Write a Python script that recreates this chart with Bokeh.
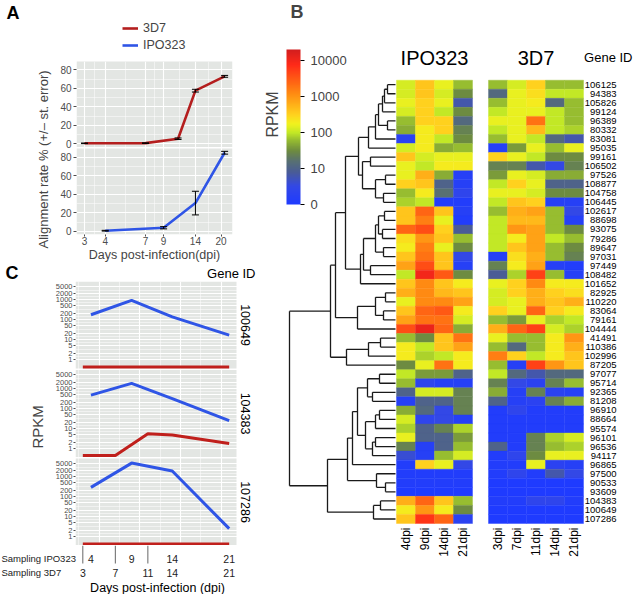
import math
from bokeh.plotting import figure
from bokeh.layouts import row, column
from bokeh.models import (Range1d, FixedTicker, Label, Legend, LegendItem, ColumnDataSource, Title,
                          ColorBar, LinearColorMapper, CustomJSTickFormatter)
from bokeh.transform import linear_cmap
from bokeh.core.properties import value
from bokeh.embed import file_html
from bokeh.resources import INLINE

FONT = "Liberation Sans"
RED = "#B41E1E"
BLUE = "#2F55E6"
BG = "#E3E6E3"
TICKC = "#4d4d4d"

# ---------------- DATA ----------------
# Panel A: alignment rate (%) and standard error
a_days_3d7 = [3, 7, 11, 14, 21]
a_rate_3d7 = [0.5, 0.7, 5.5, 57.5, 73.0]
a_err_3d7 = [0.3, 0.3, 0.8, 1.5, 1.0]
a_days_ipo = [4, 9, 14, 21]
a_rate_ipo = [0.6, 3.8, 30.5, 85.0]
a_err_ipo = [0.4, 1.2, 12.8, 1.5]
a_xticks = [3, 4, 7, 9, 14, 20]
a_yticks = [0, 20, 40, 60, 80]

# Panel C: RPKM per gene
c_days_ipo = [4, 9, 14, 21]
c_days_3d7 = [3, 7, 11, 14, 21]
c_genes = ["100649", "104383", "107286"]
c_ipo_100649 = [180, 950, 140, 17]
c_3d7_100649 = [0, 0, 0, 0, 0]
c_ipo_104383 = [460, 1800, 310, 24]
c_3d7_104383 = [0, 0, 5.3, 4.5, 1.7]
c_ipo_107286 = [300, 5000, 2000, 2.5]
c_3d7_107286 = [0, 0, 0, 0, 0]
c_yticks = [1, 2, 5, 10, 20, 50, 100, 200, 500, 1000, 2000, 5000]
c_sep_days = [3, 7, 11]

# Panel B: heatmap (log10 RPKM), gene order top -> bottom
gene_ids = ["106125", "94383", "105826", "99124", "96389", "80332", "83081", "95035", "99161", "106502",
            "97526", "108877", "104758", "106445", "102617", "88698", "93075", "79286", "89647", "97031",
            "97449", "108482", "101652", "82925", "110220", "83064", "79161", "104444", "41491", "110386",
            "102996", "87205", "97077", "95714", "92365", "81208", "96910", "88664", "95574", "96101",
            "96536", "94117", "96865", "97500", "90533", "93609", "104383", "100649", "107286"]
ipo_cols = ["4dpi", "9dpi", "14dpi", "21dpi"]
d7_cols = ["3dpi", "7dpi", "11dpi", "14dpi", "21dpi"]
ipo_4dpi = [2.1, 2.1, 2.2, 2.1, 1.8, 1.7, 0.3, 2.1, 2.6, 2.2, 2.2, 2.5, 1.8, 1.9, 2.6, 2.6, 3.4, 2.4, 2.3, 2.6,
            2.9, 2.0, 2.6, 2.8, 2.2, 2.6, 2.9, 3.6, 1.8, 2.3, 2.3, 1.5, 2.0, 1.8, 1.0, 0.2, 1.7, 2.1, 1.9, 2.2,
            1.4, 0.6, 0.1, 0.1, 0.1, 0.0, 2.8, 2.3, 2.6]
ipo_9dpi = [2.6, 2.6, 2.5, 2.5, 2.5, 2.3, 2.3, 2.3, 2.1, 2.0, 2.8, 2.6, 2.3, 2.0, 3.4, 3.2, 3.6, 3.0, 3.2, 3.3,
            3.6, 4.0, 3.1, 3.1, 3.1, 3.4, 3.3, 4.1, 1.5, 2.0, 1.9, 2.2, 1.6, 0.4, 2.1, 1.0, 1.1, 0.4, 1.0, 1.0,
            0.2, 0.2, 2.5, 0.1, 0.1, 0.0, 3.4, 3.0, 3.8]
ipo_14dpi = [2.2, 2.1, 2.2, 2.0, 2.5, 2.5, 2.0, 1.7, 2.2, 2.3, 1.7, 1.0, 1.2, 0.1, 2.6, 2.2, 2.5, 2.6, 2.2, 2.6,
             2.6, 3.5, 2.6, 2.7, 3.1, 3.5, 3.3, 3.4, 2.6, 2.6, 2.0, 3.3, 1.6, 0.2, 2.1, 1.0, 0.5, 0.5, 1.4, 1.0,
             1.0, 1.8, 2.2, 0.1, 0.1, 0.0, 2.6, 2.3, 3.4]
ipo_21dpi = [1.8, 1.5, 0.8, 1.5, 1.1, 1.4, 1.5, 1.8, 2.2, 2.3, 0.2, 0.2, 0.4, 0.1, 0.2, 0.1, 0.9, 1.8, 1.5, 0.5,
             0.2, 1.5, 2.3, 2.6, 2.9, 2.3, 2.1, 1.7, 3.3, 2.9, 2.3, 2.3, 1.0, 0.2, 1.4, 1.4, 1.4, 0.2, 1.9, 1.6,
             1.8, 2.1, 0.5, 0.1, 0.1, 0.0, 1.8, 1.5, 0.3]
d7_3dpi = [1.8, 1.1, 1.8, 2.0, 2.2, 2.0, 1.8, 0.2, 2.5, 1.4, 1.6, 2.0, 2.2, 2.0, 1.8, 2.0, 2.0, 2.0, 2.0, 0.2,
           1.4, 0.9, 2.2, 2.1, 2.1, 2.5, 1.8, 2.8, 2.2, 1.8, 3.2, 1.8, 2.0, 1.4, 1.7, 1.0, 0.1, 0.1, 0.1, 0.1,
           1.0, 0.1, 0.1, 0.1, 0.0, 0.0, 0.1, 0.0, 0.0]
d7_7dpi = [2.1, 2.2, 2.2, 2.2, 2.2, 2.2, 2.2, 1.6, 2.2, 1.4, 2.2, 2.5, 2.2, 2.6, 2.8, 2.7, 3.0, 2.3, 2.6, 2.4,
           2.3, 1.9, 2.5, 2.5, 2.2, 2.2, 1.6, 3.4, 1.8, 1.1, 2.5, 0.2, 1.1, 0.5, 0.2, 0.2, 0.4, 0.1, 0.1, 0.1,
           0.1, 0.4, 0.1, 0.4, 0.0, 0.0, 0.1, 0.0, 0.0]
d7_11dpi = [2.5, 2.4, 2.3, 2.2, 3.3, 2.7, 2.0, 2.2, 2.0, 0.8, 2.1, 2.2, 2.1, 2.5, 2.9, 2.7, 2.9, 2.9, 2.9, 2.8,
            2.9, 3.7, 3.1, 2.8, 2.8, 3.4, 2.2, 3.7, 1.8, 1.8, 2.0, 3.7, 0.8, 0.3, 1.4, 0.3, 0.1, 0.1, 0.1, 1.4,
            1.4, 1.5, 2.2, 0.1, 0.0, 0.0, 0.4, 0.0, 0.0]
d7_14dpi = [1.8, 2.0, 1.1, 2.0, 2.0, 2.0, 1.1, 1.8, 1.5, 0.5, 1.7, 1.0, 1.5, 0.2, 1.8, 1.8, 1.8, 2.0, 1.8, 1.8,
            0.2, 1.8, 2.3, 2.5, 2.6, 2.5, 1.9, 2.1, 2.3, 2.3, 2.3, 3.0, 1.1, 1.4, 0.3, 1.4, 0.1, 0.1, 0.1, 1.9,
            1.8, 2.2, 0.3, 0.8, 0.0, 0.0, 0.4, 0.0, 0.0]
d7_21dpi = [1.8, 2.0, 1.8, 1.8, 1.8, 1.9, 0.8, 2.2, 1.5, 1.4, 1.7, 1.0, 1.5, 0.2, 0.5, 0.2, 1.5, 1.8, 1.5, 1.4,
            0.1, 0.2, 2.3, 2.4, 2.8, 2.3, 2.0, 1.9, 3.0, 2.8, 2.6, 2.6, 1.1, 1.8, 0.2, 1.7, 0.1, 0.1, 0.1, 2.1,
            1.9, 2.2, 0.2, 0.5, 0.0, 0.0, 0.1, 0.0, 0.0]
cbar_ticks = [0, 1, 2, 3, 4]
cbar_labels = ["0", "10", "100", "1000", "10000"]

# hierarchical clustering: (merge height, left, right); leaves are row indices
dendro_tree = (106,
  (65,
    (60,
      (50,
        (37,
          (27, (20, (17, (13, (11, (8, 0, 1), 2), 3), (8, 4, 5)), 6), 7),
          (33, (25, 8, 9), (20, (10, 10, 11), (12, 12, 13)))),
        (35, (32, (20, (17, (11, 14, 15), (13, 16, 17)), (12, 18, 19)), (25, 20, 21)), 22)),
      (38, (20, (10, 23, 24), (12, 25, 26)), 27)),
    (49, (27, (15, 28, 29), 30), 31)),
  (68,
    (48,
      (43,
        (38, (28, (16, 32, 33), (23, 34, 35)),
             (30, (20, (16, 36, 37), 38), (23, (20, 39, 40), 41))),
        42),
      (19, 43, (10, 44, 45))),
    (22, (15, 46, 47), 48)))


def nearest_formatter(pos, labs):
    return CustomJSTickFormatter(args=dict(pos=list(pos), labs=list(labs)), code="""
        let best = ''; let d = Infinity;
        for (let i = 0; i < pos.length; i++) {
            const e = Math.abs(pos[i] - tick);
            if (e < d) { d = e; best = labs[i]; }
        }
        return best;
    """)


def style_axis(ax, fs):
    ax.axis_line_color = None
    ax.major_tick_line_color = TICKC
    ax.major_tick_out = 3
    ax.major_tick_in = 0
    ax.minor_tick_line_color = None
    ax.major_label_text_font = FONT
    ax.major_label_text_font_size = fs
    ax.major_label_text_color = TICKC
    ax.major_label_standoff = 2


def white_grids(p):
    for g in (p.xgrid[0], p.ygrid[0]):
        g.grid_line_color = "white"
        g.grid_line_width = 1.1
        g.minor_grid_line_color = "white"
        g.minor_grid_line_width = 0.5


def header(width, top, bottom):
    """Text-only strip: page-pixel ranges, frame = whole canvas."""
    h = figure(width=width, height=bottom - top, x_range=Range1d(0, width), y_range=Range1d(bottom, top),
               x_axis_location=None, y_axis_location=None, output_backend="svg", toolbar_location=None,
               min_border=0, min_border_left=0, min_border_right=0, min_border_top=0,
               min_border_bottom=0, frame_align=False)
    h.outline_line_color = None
    h.xgrid.visible = False
    h.ygrid.visible = False
    return h


def txt(p, x, y, s, size, align="left", bold=False, angle=0.0, color="black", **kw):
    p.text(x=[x], y=[y], text=[s], text_align=align, text_baseline="middle", angle=angle,
           text_font=value(FONT), text_font_size=size, text_color=color,
           text_font_style="bold" if bold else "normal", **kw)


LEFT_W = 263
PAGE_H = 594
NAN = float("nan")

# ---------------- PANEL A ----------------
hA = header(LEFT_W, 0, 58)
txt(hA, 6, 12, "A", "18px", bold=True)
# legend proxies (no visible points)
r_l3 = hA.line(x=[0, 1], y=[NAN, NAN], line_color=RED, line_width=2.6)
r_li = hA.line(x=[0, 1], y=[NAN, NAN], line_color=BLUE, line_width=2.6)
leg = Legend(items=[LegendItem(label="3D7", renderers=[r_l3]), LegendItem(label="IPO323", renderers=[r_li])],
             location=(122, 58 - 53), glyph_width=16, glyph_height=16, label_height=16,
             spacing=1, padding=0, margin=0, label_standoff=5, border_line_color=None,
             background_fill_alpha=0, label_text_font=FONT, label_text_font_size="12.5px")
hA.add_layout(leg)

A_TOP, A_BOT = 58, 264
A_FL, A_FR, A_FT, A_FB = 76, 232, 61, 237
A_X = (2.684, 23.43)
A_PPU = 0.94
A_PANEL = (-3.5, 89.5)
A_OFF = (150 - A_FT) / A_PPU
A_YR = (A_PANEL[0], A_PANEL[0] + (A_FB - A_FT) / A_PPU)

pa = figure(width=LEFT_W, height=A_BOT - A_TOP, x_axis_type="log", x_range=Range1d(*A_X),
            y_range=Range1d(*A_YR), output_backend="svg", toolbar_location=None, frame_align=False,
            min_border_left=A_FL, min_border_right=LEFT_W - A_FR, min_border_top=A_FT - A_TOP,
            min_border_bottom=A_BOT - A_FB)
pa.extra_y_ranges = {"top": Range1d(A_YR[0] - A_OFF, A_YR[1] - A_OFF)}
pa.outline_line_color = None
for rn in ["default", "top"]:
    pa.quad(left=A_X[0], right=A_X[1], bottom=A_PANEL[0], top=A_PANEL[1], fill_color=BG,
            line_color=None, level="image", y_range_name=rn)

xminor = [math.sqrt(a * b) for a, b in zip(a_xticks[:-1], a_xticks[1:])]
pa.xgrid.ticker = FixedTicker(ticks=a_xticks, minor_ticks=xminor)
a_ypos = list(a_yticks) + [t + A_OFF for t in a_yticks]
a_ylab = [str(t) for t in a_yticks] * 2
a_yminor = [10, 30, 50, 70] + [t + A_OFF for t in [10, 30, 50, 70]]
pa.ygrid.ticker = FixedTicker(ticks=a_ypos, minor_ticks=a_yminor)
white_grids(pa)
pa.xaxis.ticker = FixedTicker(ticks=a_xticks)
pa.xaxis.formatter = CustomJSTickFormatter(code="return String(Math.round(tick));")
pa.yaxis.ticker = FixedTicker(ticks=a_ypos)
pa.yaxis.formatter = nearest_formatter(a_ypos, a_ylab)
style_axis(pa.xaxis[0], "10px")
style_axis(pa.yaxis[0], "10px")
pa.xaxis.major_tick_out = 2
pa.xaxis.major_label_standoff = 0
pa.xaxis.axis_label = "Days post-infection(dpi)"
pa.xaxis.axis_label_standoff = 0
pa.xaxis.axis_label_text_font = FONT
pa.xaxis.axis_label_text_font_size = "12.5px"
pa.xaxis.axis_label_text_font_style = "normal"
pa.add_layout(Title(text="Alignment rate % (+/\u2013 st. error)", align="left", offset=A_FB - 251,
                    standoff=14, text_font=FONT, text_font_size="13px", text_font_style="normal"), "left")

pa.line(a_days_3d7, a_rate_3d7, y_range_name="top", line_color=RED, line_width=2.6)
pa.line(a_days_ipo, a_rate_ipo, line_color=BLUE, line_width=2.6)
for days, rate, err, rn in [(a_days_3d7, a_rate_3d7, a_err_3d7, "top"),
                            (a_days_ipo, a_rate_ipo, a_err_ipo, "default")]:
    lo = [r - e for r, e in zip(rate, err)]
    hi = [r + e for r, e in zip(rate, err)]
    pa.segment(x0=days, y0=lo, x1=days, y1=hi, line_color="black", line_width=1, y_range_name=rn)
    pa.scatter(list(days) * 2, lo + hi, marker="dash", size=7, line_color="black", line_width=1,
               y_range_name=rn)

# ---------------- PANEL C ----------------
hC = header(LEFT_W, 264, 281)
txt(hC, 5, 272, "C", "18px", bold=True)
txt(hC, 255, 273, "Gene ID", "13px", align="right")

C_TOP, C_BOT = 281, 545
C_FL, C_FR = 75, 255
C_PANEL_TOPS = [281.0, 369.5, 458.0]
C_PANEL_H = 87.0
C_LOG = (-0.45, 3.93)
C_PPU = C_PANEL_H / (C_LOG[1] - C_LOG[0])
C_YR = (C_LOG[0] - (C_BOT - (C_PANEL_TOPS[2] + C_PANEL_H)) / C_PPU,
        C_LOG[1] + (C_PANEL_TOPS[2] - C_TOP) / C_PPU)
C_X = (2.1, 21.9)
C_XPPU = (236 - C_FL) / (C_X[1] - C_X[0])
C_XR = (C_X[0], C_X[0] + (C_FR - C_FL) / C_XPPU)

pc = figure(width=LEFT_W, height=C_BOT - C_TOP, x_range=Range1d(*C_XR), y_range=Range1d(*C_YR),
            x_axis_location=None, output_backend="svg", toolbar_location=None, frame_align=False,
            min_border_left=C_FL, min_border_right=LEFT_W - C_FR, min_border_top=0, min_border_bottom=0)
pc.outline_line_color = None
offs = [(C_PANEL_TOPS[2] - t) / C_PPU for t in C_PANEL_TOPS]
pc.extra_y_ranges = {f"g{k}": Range1d(C_YR[0] - offs[k], C_YR[1] - offs[k]) for k in range(3)}

c_logt = [math.log10(t) for t in c_yticks]
c_pos, c_lab, c_minor = [], [], []
for k in range(3):
    c_pos += [v + offs[k] for v in c_logt]
    c_lab += [str(t) for t in c_yticks]
    c_minor += [(a + b) / 2 + offs[k] for a, b in zip(c_logt[:-1], c_logt[1:])]
pc.ygrid.ticker = FixedTicker(ticks=c_pos, minor_ticks=c_minor)
pc.xgrid.ticker = FixedTicker(ticks=[5, 10, 15, 20], minor_ticks=[2.5, 7.5, 12.5, 17.5])
white_grids(pc)
pc.yaxis.ticker = FixedTicker(ticks=c_pos)
pc.yaxis.formatter = nearest_formatter(c_pos, c_lab)
style_axis(pc.yaxis[0], "7.5px")
pc.yaxis.major_label_standoff = 1
pc.yaxis.major_tick_out = 2
pc.add_layout(Title(text="RPKM", align="left", offset=545 - 448, standoff=14, text_font=FONT,
                    text_font_size="15px", text_font_style="normal"), "left")

c_ipo = [c_ipo_100649, c_ipo_104383, c_ipo_107286]
c_3d7 = [c_3d7_100649, c_3d7_104383, c_3d7_107286]
for k in range(3):
    rn = f"g{k}"
    pc.quad(left=C_X[0], right=C_X[1], bottom=C_LOG[0], top=C_LOG[1], fill_color=BG,
            line_color=None, level="image", y_range_name=rn)
    yb = [math.log10(v) for v in c_ipo[k]]
    yr = [math.log10(v) if v > 0 else C_LOG[0] + 0.07 for v in c_3d7[k]]
    pc.line(c_days_3d7, yr, line_color="#C0201C", line_width=3, y_range_name=rn)
    pc.line(c_days_ipo, yb, line_color=BLUE, line_width=3, y_range_name=rn)
    strip_x = C_X[0] + (245 - C_FL) / C_XPPU
    pc.text(x=[strip_x], y=[(C_LOG[0] + C_LOG[1]) / 2], text=[c_genes[k]], angle=-math.pi / 2,
            text_align="center", text_baseline="middle", text_font=value(FONT),
            text_font_size="12.5px", y_range_name=rn)

# sampling rows under panel C (same day -> pixel mapping as panel C)
hS = figure(width=LEFT_W, height=PAGE_H - C_BOT,
            x_range=Range1d(C_X[0] - C_FL / C_XPPU, C_X[0] + (LEFT_W - C_FL) / C_XPPU),
            y_range=Range1d(PAGE_H, C_BOT), x_axis_location=None, y_axis_location=None,
            output_backend="svg", toolbar_location=None, frame_align=False,
            min_border=0, min_border_left=0, min_border_right=0, min_border_top=0, min_border_bottom=0)
hS.outline_line_color = None
hS.xgrid.visible = False
hS.ygrid.visible = False


def px_day(px):
    return C_X[0] + (px - C_FL) / C_XPPU


hS.segment(x0=c_sep_days, y0=[545] * 3, x1=c_sep_days, y1=[563] * 3, line_color="#666666", line_width=1)
hS.text(x=c_days_ipo, y=[558] * 4, text=[str(d) for d in c_days_ipo], text_align="center",
        text_baseline="middle", text_font=value(FONT), text_font_size="10.5px", text_color="#222222")
hS.text(x=c_days_3d7, y=[572] * 5, text=[str(d) for d in c_days_3d7], text_align="center",
        text_baseline="middle", text_font=value(FONT), text_font_size="10.5px", text_color="#222222")
txt(hS, px_day(1), 558, "Sampling IPO323", "9.5px", color="#222222")
txt(hS, px_day(1), 572, "Sampling 3D7", "9.5px", color="#222222")
txt(hS, px_day(157), 587, "Days post-infection (dpi)", "12.5px", align="center")

# ---------------- PANEL B ----------------
HM_LEFT, HM_TOP, CELL_W = 396.0, 79.7, 19.0
CELL_H = 443.3 / len(gene_ids)
B_L, B_W, B_H = LEFT_W, 633 - LEFT_W, PAGE_H
B_XR = ((B_L - HM_LEFT) / CELL_W, (B_L + B_W - HM_LEFT) / CELL_W)
B_YR = ((B_H - HM_TOP) / CELL_H, (0 - HM_TOP) / CELL_H)
GAP = 16.0 / CELL_W
LEAF_X = 395.0

pb = figure(width=B_W, height=B_H, x_range=Range1d(*B_XR), y_range=Range1d(*B_YR),
            x_axis_location=None, y_axis_location=None, output_backend="svg", toolbar_location=None,
            frame_align=False, min_border=0, min_border_left=0, min_border_right=0, min_border_top=0,
            min_border_bottom=0)
pb.outline_line_color = None
pb.xgrid.visible = False
pb.ygrid.visible = False
pb.extra_x_ranges = {"dendro": Range1d(LEAF_X - B_L, LEAF_X - (B_L + B_W))}


def interp_palette(anchors, n=256):
    lo, hi = anchors[0][0], anchors[-1][0]
    out = []
    for i in range(n):
        t = lo + (hi - lo) * i / (n - 1)
        for (t0, c0), (t1, c1) in zip(anchors[:-1], anchors[1:]):
            if t0 <= t <= t1:
                f = (t - t0) / (t1 - t0) if t1 > t0 else 0
                a = [int(c0[j:j + 2], 16) for j in (1, 3, 5)]
                b = [int(c1[j:j + 2], 16) for j in (1, 3, 5)]
                out.append("#%02x%02x%02x" % tuple(int(round(a[j] + (b[j] - a[j]) * f)) for j in range(3)))
                break
    return out


VMAX = 4.32
palette = interp_palette([(0.0, "#1F3BFF"), (0.5, "#3348E6"), (0.9, "#4A5C96"), (1.2, "#587072"),
                          (1.5, "#6E8C3F"), (1.8, "#98BE30"), (2.0, "#C2E826"), (2.25, "#F2F21E"),
                          (2.5, "#FFD21E"), (2.8, "#FFAE18"), (3.1, "#FF8A12"), (3.5, "#FF5A14"),
                          (3.9, "#FF2A18"), (VMAX, "#D21E1E")])

hx, hy, hv = [], [], []
for j, colv in enumerate([ipo_4dpi, ipo_9dpi, ipo_14dpi, ipo_21dpi]):
    for i, v in enumerate(colv):
        hx.append(j + 0.5); hy.append(i + 0.5); hv.append(v)
d7_x0 = len(ipo_cols) + GAP
for k, colv in enumerate([d7_3dpi, d7_7dpi, d7_11dpi, d7_14dpi, d7_21dpi]):
    for i, v in enumerate(colv):
        hx.append(d7_x0 + k + 0.5); hy.append(i + 0.5); hv.append(v)
cmap = linear_cmap("v", palette, 0, VMAX)
pb.rect(x="x", y="y", width=1, height=1, source=ColumnDataSource(dict(x=hx, y=hy, v=hv)),
        fill_color=cmap, line_color=cmap, line_width=0.4)

segs = []


def walk(node):
    if isinstance(node, int):
        return node + 0.5, 0.0
    h, l, r = node
    yl, hl = walk(l)
    yr, hr = walk(r)
    segs.append((hl, yl, h, yl))
    segs.append((hr, yr, h, yr))
    segs.append((h, yl, h, yr))
    return (yl + yr) / 2, h


walk(dendro_tree)
pb.segment(x0=[s[0] for s in segs], y0=[s[1] for s in segs], x1=[s[2] for s in segs],
           y1=[s[3] for s in segs], x_range_name="dendro", line_color="#1a1a1a", line_width=1.3)

title_y = (57 - HM_TOP) / CELL_H
pb.text(x=[len(ipo_cols) / 2, d7_x0 + len(d7_cols) / 2], y=[title_y] * 2, text=["IPO323", "3D7"],
        text_align="center", text_baseline="middle", text_font=value(FONT), text_font_size="20px")
pb.text(x=[(632 - HM_LEFT) / CELL_W], y=[title_y], text=["Gene ID"], text_align="right",
        text_baseline="middle", text_font=value(FONT), text_font_size="13px")
pb.text(x=[(616 - HM_LEFT) / CELL_W] * len(gene_ids), y=[i + 0.5 for i in range(len(gene_ids))],
        text=gene_ids, text_align="right", text_baseline="middle", text_font=value(FONT),
        text_font_size="9.5px")
col_x = [j + 0.5 for j in range(len(ipo_cols))] + [d7_x0 + k + 0.5 for k in range(len(d7_cols))]
col_y = (527 - HM_TOP) / CELL_H
pb.text(x=col_x, y=[col_y] * len(col_x), text=ipo_cols + d7_cols, angle=math.pi / 2,
        text_align="right", text_baseline="middle", text_font=value(FONT), text_font_size="12px")

mapper = LinearColorMapper(palette=palette, low=0, high=VMAX)
cb = ColorBar(color_mapper=mapper, location=(286 - B_L, B_H - 204), width=14, height=155,
              padding=0, margin=0, ticker=FixedTicker(ticks=cbar_ticks),
              formatter=nearest_formatter(cbar_ticks, cbar_labels),
              major_label_text_font=FONT, major_label_text_font_size="13px", label_standoff=6,
              major_tick_line_color="black", major_tick_in=0, major_tick_out=4,
              minor_tick_line_color=None, bar_line_color=None, border_line_color=None,
              background_fill_alpha=0)
pb.add_layout(cb)
pb.add_layout(Label(x=272 - B_L, y=B_H - 114, x_units="screen", y_units="screen", text="RPKM",
                    angle=math.pi / 2, text_align="center", text_baseline="middle", text_font=FONT,
                    text_font_size="16px"))
pb.add_layout(Label(x=290 - B_L, y=B_H - 11, x_units="screen", y_units="screen", text="B",
                    text_align="left", text_baseline="middle", text_font=FONT, text_font_size="18px",
                    text_font_style="bold"))

layout = row(column(hA, pa, hC, pc, hS), pb)
open("out.html", "w").write(file_html(layout, INLINE))
